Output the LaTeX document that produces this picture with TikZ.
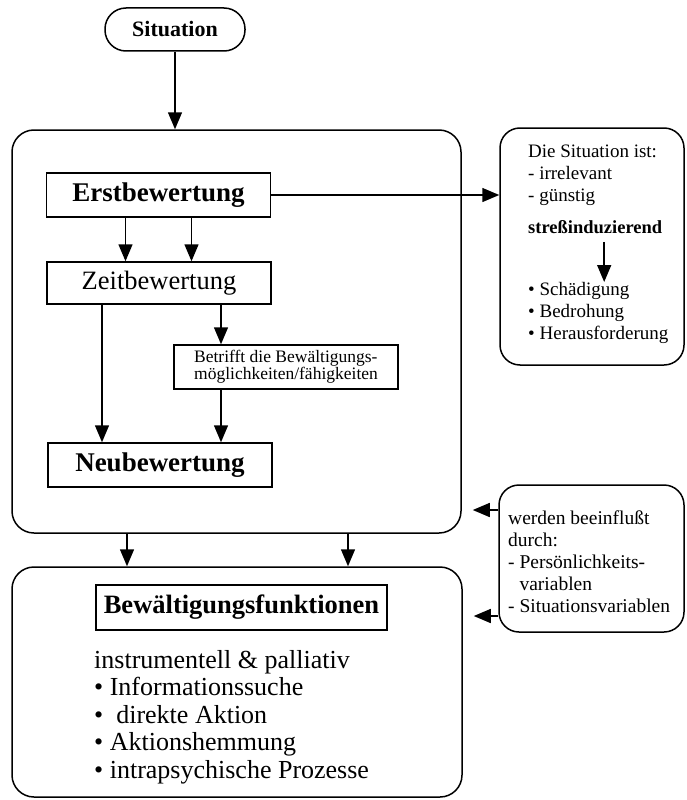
\documentclass[tikz,border=0pt]{standalone}
\usepackage{fontspec}
\setmainfont{Liberation Serif}
\usetikzlibrary{arrows.meta}
\tikzset{
  kasten/.style={draw, line width=1.5pt, minimum width=224pt, minimum height=44pt, inner sep=0pt},
  rahmen/.style={draw, line width=1.5pt, rounded corners=22pt, inner sep=0pt},
  pfeil/.style={line width=1.5pt, -{Triangle[width=14pt,length=17pt]}},
  txt/.style={inner sep=0pt, align=left, anchor=west},
  gross/.style={font=\bfseries\fontsize{27}{30}\selectfont},
  klein/.style={font=\fontsize{19}{22}\selectfont},
}
\begin{document}
\begin{tikzpicture}[x=1pt,y=-1pt]
\useasboundingbox (0,0) rectangle (686,800);
% Rahmen
\node[rahmen, minimum width=449pt, minimum height=403pt] (phase) at (236.5,331.5) {};
\node[rahmen, minimum width=450pt, minimum height=230pt] (bewaelt) at (237,682) {};
\node[rahmen, rounded corners=20pt, minimum width=184pt, minimum height=237pt] (urteil) at (592,246.5) {};
\node[rahmen, rounded corners=20pt, minimum width=185pt, minimum height=147pt] (einfluss) at (591.5,558.5) {};
% Kaesten
\node[rahmen, rounded corners=21pt, minimum width=140pt, minimum height=43pt, font=\bfseries\fontsize{22}{24}\selectfont] (sit) at (175,29.5) {Situation};
\node[kasten, gross] (erst) at (158.5,195) {Erstbewertung};
\node[kasten, minimum height=42pt, font=\fontsize{26.5}{30}\selectfont] (zeit) at (159,283) {Zeitbewertung};
\node[kasten, align=left, font=\fontsize{17.5}{17}\selectfont] (betr) at (286,367) {Betrifft die Bewältigungs-\\möglichkeiten/fähigkeiten};
\node[kasten, gross] (neu) at (160,465) {Neubewertung};
\node[kasten, minimum width=291pt, minimum height=45pt, font=\bfseries\fontsize{26.5}{30}\selectfont] (funk) at (241.5,607.5) {Bewältigungsfunktionen};
% Texte
\node[txt, klein] (ist) at (528,175) {Die Situation ist:\\- irrelevant\\- günstig};
\node[txt, font=\bfseries\fontsize{18.5}{22}\selectfont] (stress) at (528,227) {streßinduzierend};
\node[txt, klein, anchor=north west] (folgen) at (528,282) {• Schädigung\\• Bedrohung\\• Herausforderung};
\node[txt, font=\fontsize{19.5}{22}\selectfont] (durch) at (508,562) {werden beeinflußt\\durch:\\- Persönlichkeits-\\\phantom{- }variablen\\- Situationsvariablen};
\node[txt, font=\fontsize{26}{27.5}\selectfont] (liste) at (94,717) {instrumentell \& palliativ\\• Informationssuche\\•\ \ direkte Aktion\\• Aktionshemmung\\• intrapsychische Prozesse};
% Pfeile
\draw[pfeil] (sit) -- (phase.north -| sit.south);
\draw[pfeil] (erst.east) -- (erst.east -| urteil.west);
\draw[pfeil] ([xshift=-33pt]erst.south) -- ([xshift=-33pt]erst.south |- zeit.north);
\draw[pfeil] ([xshift=33pt]erst.south) -- ([xshift=33pt]erst.south |- zeit.north);
\draw[pfeil] ([xshift=-57pt]zeit.south) -- ([xshift=-57pt]zeit.south |- neu.north);
\draw[pfeil] ([xshift=62pt]zeit.south) -- ([xshift=62pt]zeit.south |- betr.north);
\draw[pfeil] ([xshift=-65pt]betr.south) -- ([xshift=-65pt]betr.south |- neu.north);
\draw[pfeil] ([xshift=9pt]stress.south) ++(0,8) -- ([xshift=9pt]stress.south |- folgen.north);
\draw[pfeil] ([xshift=-109.5pt]phase.south) -- ([xshift=-109.5pt]phase.south |- bewaelt.north);
\draw[pfeil] ([xshift=111.5pt]phase.south) -- ([xshift=111.5pt]phase.south |- bewaelt.north);
\draw[pfeil, shorten >=11pt] ([yshift=48.5pt]einfluss.west) -- ([yshift=48.5pt]einfluss.west -| phase.east);
\draw[pfeil, shorten >=11pt] ([yshift=-57.5pt]einfluss.west) -- ([yshift=-57.5pt]einfluss.west -| bewaelt.east);
\end{tikzpicture}
\end{document}
